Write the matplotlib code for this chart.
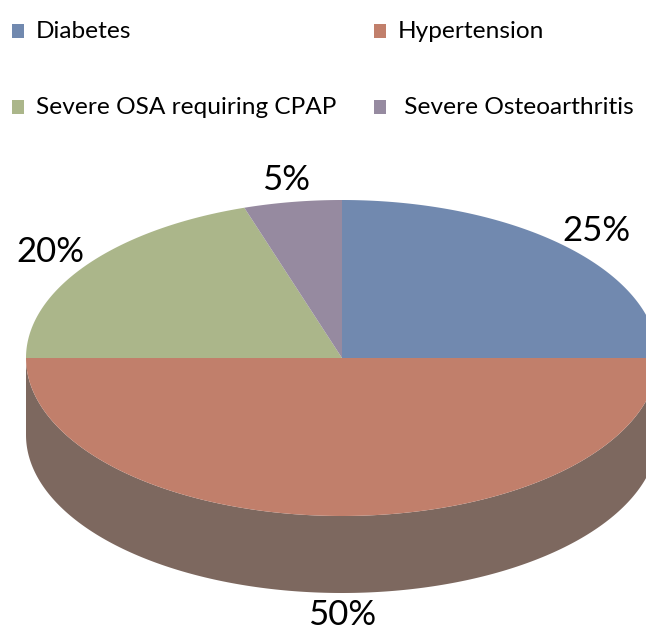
import numpy as np
import matplotlib.pyplot as plt
from matplotlib.patches import Polygon, Rectangle

# Données
categories = ['Diabetes', 'Hypertension', 'Severe OSA requiring CPAP', ' Severe Osteoarthritis']
values = [25, 50, 20, 5]
colors = ['#7189AF', '#C17F6B', '#ABB68A', '#968AA0']
side_colors = ['#4F6079', '#7D685F', '#77805F', '#696170']

plt.rcParams['font.family'] = ['Lato', 'DejaVu Sans']

fig = plt.figure(figsize=(6.46, 6.33), dpi=100)
ax = fig.add_axes([0, 0, 1, 1])
ax.set_xlim(0, 646)
ax.set_ylim(633, 0)
ax.axis('off')

# Géométrie de la tarte (pixels)
cx, cy = 342, 358
rx, ry = 316, 158
depth = 77


def pt(theta, r=1.0, dy=0.0):
    t = np.radians(theta)
    return cx + r * rx * np.sin(t), cy - r * ry * np.cos(t) + dy


vals = np.array(values, dtype=float)
fracs = vals / vals.sum()
ends = np.cumsum(fracs) * 360
starts = ends - fracs * 360

# Faces latérales (partie avant, 90° à 270°)
for s, e, sc in zip(starts, ends, side_colors):
    a, b = max(s, 90), min(e, 270)
    if b <= a:
        continue
    th = np.linspace(a, b, 200)
    top = np.array([pt(t) for t in th])
    bot = np.array([pt(t, dy=depth) for t in th[::-1]])
    ax.add_patch(Polygon(np.vstack([top, bot]), closed=True, facecolor=sc, edgecolor='none'))

# Face supérieure
for s, e, c in zip(starts, ends, colors):
    th = np.linspace(s, e, 200)
    arc = np.array([pt(t) for t in th])
    poly = np.vstack([[cx, cy], arc])
    ax.add_patch(Polygon(poly, closed=True, facecolor=c, edgecolor='none'))

# Étiquettes de pourcentage
for s, e, f in zip(starts, ends, fracs):
    mid = (s + e) / 2
    extra = depth if np.cos(np.radians(mid)) < 0 else 0
    x, y = pt(mid, r=1.14, dy=extra)
    ax.text(x, y, f'{f * 100:.0f}%', fontsize=25, ha='center', va='center', color='black')

# Légende
leg_pos = [(12, 31), (374, 31), (12, 107), (374, 107)]
for (lx, ly), name, c in zip(leg_pos, categories, colors):
    ax.add_patch(Rectangle((lx, ly - 7), 12, 14, facecolor=c, edgecolor='none'))
    ax.text(lx + 24, ly, name, fontsize=17.6, ha='left', va='center', color='black')

plt.savefig('out.png', dpi=100)
